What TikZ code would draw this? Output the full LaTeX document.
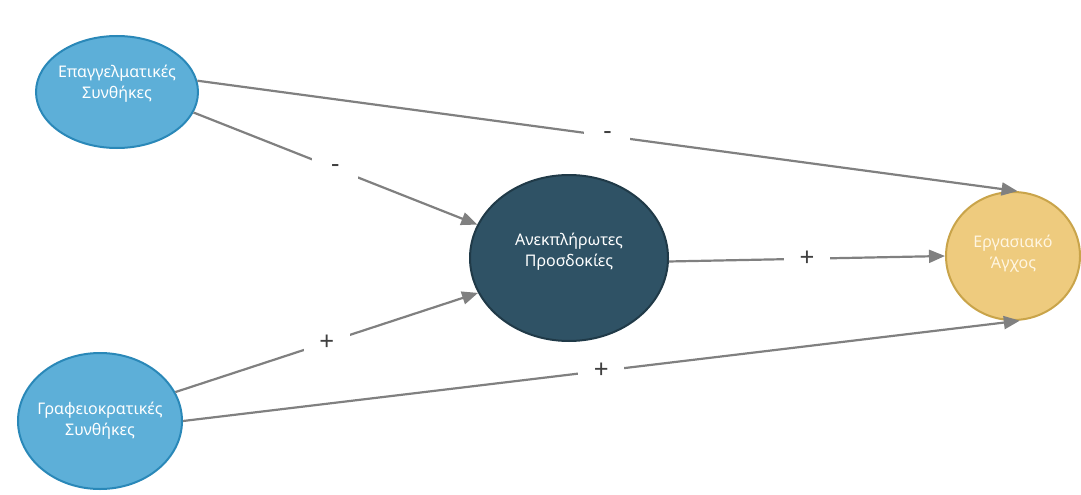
\documentclass[tikz,border=0pt]{standalone}
\usepackage{fontspec}
\setmainfont{Noto Sans}
\usetikzlibrary{shapes.geometric,arrows.meta}
\definecolor{blueFill}{HTML}{5DAFD8}
\definecolor{blueLine}{HTML}{2A88B8}
\definecolor{navyFill}{HTML}{2F5265}
\definecolor{navyLine}{HTML}{203A48}
\definecolor{goldFill}{HTML}{EECB7E}
\definecolor{goldLine}{HTML}{C9A44A}
\definecolor{goldText}{HTML}{FFF6E2}
\definecolor{arrowGray}{HTML}{808080}
\definecolor{signGray}{HTML}{404040}
\begin{document}
\begin{tikzpicture}[x=1pt,y=-1pt,
  factor/.style={ellipse, draw, line width=2pt, inner sep=0pt},
  caption/.style={align=center, font=\fontsize{16}{21}\selectfont},
  link/.style={draw=arrowGray, line width=2.2pt,
    -{Triangle[length=16pt,width=13pt]}},
  sign/.style={fill=white, inner sep=0pt, minimum width=46pt, minimum height=22pt,
    text=signGray, font=\fontsize{26}{26}\selectfont}
]
\useasboundingbox (0,0) rectangle (1081,495);

% factors
\node[factor, fill=blueFill, draw=blueLine, minimum width=162pt, minimum height=112pt,
  label={[caption, text=white, yshift=8pt]center:Επαγγελματικές\\Συνθήκες}] (prof) at (117,92) {};
\node[factor, fill=blueFill, draw=blueLine, minimum width=164pt, minimum height=136pt,
  label={[caption, text=white]center:Γραφειοκρατικές\\Συνθήκες}] (bur) at (100,421) {};
\node[factor, fill=navyFill, draw=navyLine, minimum width=198pt, minimum height=166pt,
  label={[caption, text=white, yshift=6pt]center:Ανεκπλήρωτες\\Προσδοκίες}] (unmet) at (569,258) {};
\node[factor, fill=goldFill, draw=goldLine, minimum width=134pt, minimum height=128pt,
  label={[caption, text=goldText, yshift=2pt]center:Εργασιακό\\Άγχος}] (stress) at (1013,256) {};

% effects
\draw[link] (prof.8.5) -- node[sign] {-} (stress.86);
\draw[link] (prof.-15) -- node[sign] {-} (unmet.160);
\draw[link] (bur.21.7) -- node[sign] {+} (unmet.201.6);
\draw[link] (bur.0.5) -- node[sign] {+} (stress.276);
\draw[link] (unmet.-2) -- node[sign] {+} (stress.180);
\end{tikzpicture}
\end{document}
